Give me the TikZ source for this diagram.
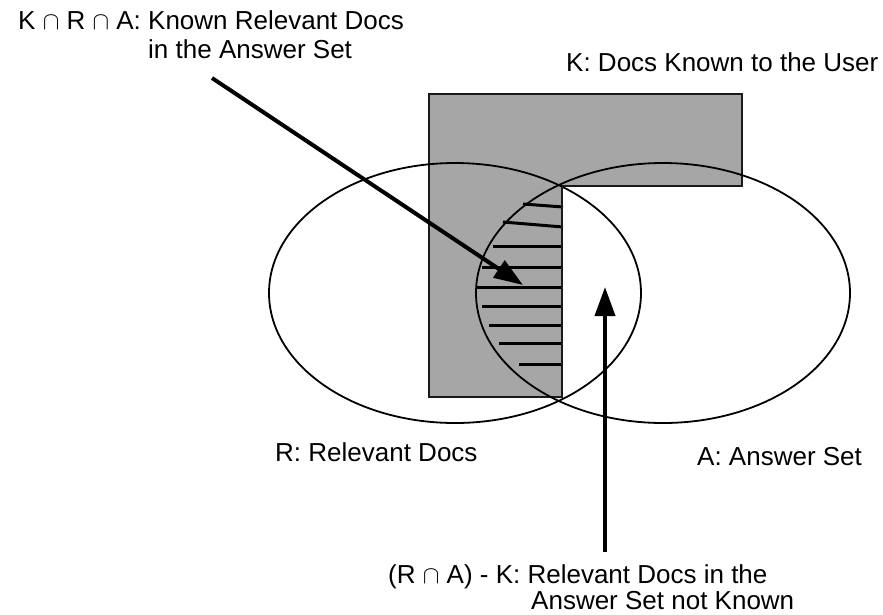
\documentclass[tikz,border=0pt]{standalone}
\usepackage{fontspec}
\setmainfont{Liberation Sans}
\newcommand{\capset}{\ensuremath{\cap}}
\usetikzlibrary{arrows.meta}
\definecolor{kgray}{HTML}{A6A6A6}
\definecolor{kedge}{HTML}{1A1A1A}
\begin{document}
\begin{tikzpicture}[x=1pt,y=-1pt,
  lbl/.style={anchor=base west, inner sep=0pt, font=\fontsize{26}{28}\selectfont},
  setline/.style={line width=1.8pt, black},
  hatch/.style={line width=3pt, black},
  pointer/.style={line width=4pt, black, -{Triangle[length=29pt,width=20pt]}},
  known/.style={fill=kgray, draw=kedge, line width=2pt, line join=miter}]
\useasboundingbox (0,0) rectangle (883,614);

% K: the L-shaped set of documents known to the user
\path[known] (429,94) -- (742,94) -- (742,186) -- (562,186)
  -- (562,397) -- (429,397) -- cycle;

% R and A
\draw[setline] (455,293) ellipse [x radius=186, y radius=130];
\draw[setline] (663,293) ellipse [x radius=187, y radius=130];

% hatching of K, R and A together
\foreach \xa/\ya/\yb in {523/204/207, 503/222/227, 493/246/246, 482/267/267,
  477/287/287, 482/306/306, 489/325/325, 499/343/343, 519/364/364}
  \draw[hatch] (\xa,\ya) -- (563,\yb);
\draw[kedge, line width=2pt] (562,186) -- (562,397);

% labels
\node[lbl] (kraA) at (18,29) {K \capset{} R \capset{} A: Known Relevant Docs};
\node[lbl] (kraB) at (148,58) {in the Answer Set};
\node[lbl] (klbl) at (566,71) {K: Docs Known to the User};
\node[lbl] (rlbl) at (275,461) {R: Relevant Docs};
\node[lbl] (albl) at (697,465) {A: Answer Set};
\node[lbl] (raA) at (388,583) {(R \capset{} A) - K: Relevant Docs in the};
\node[lbl] (raB) at (531,609) {Answer Set not Known};

% pointers
\coordinate (kraFrom) at (212,78);
\coordinate (kraTo) at (523,285);
\coordinate (raFrom) at (605,552);
\coordinate (raTo) at (605,287);
\draw[pointer] (kraFrom) -- (kraTo);
\draw[pointer] (raFrom) -- (raTo);
\end{tikzpicture}
\end{document}
